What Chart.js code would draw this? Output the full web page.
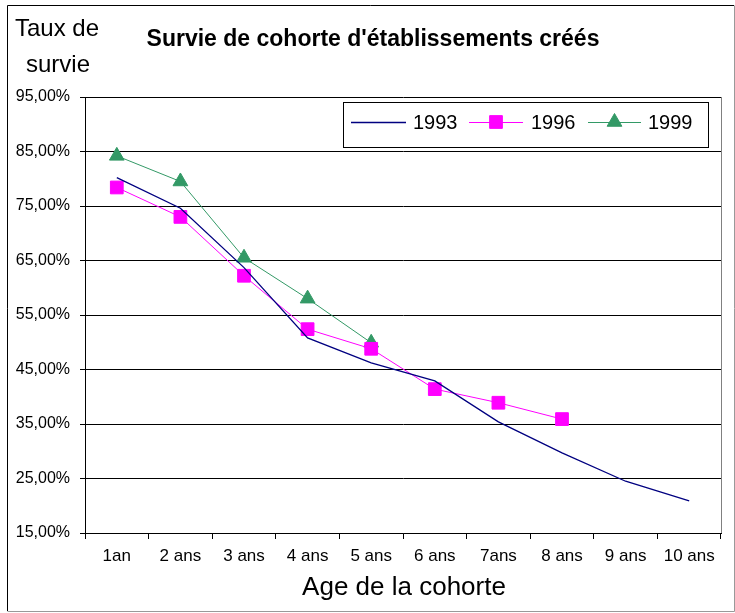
<!DOCTYPE html>
<html lang="fr">
<head>
<meta charset="utf-8">
<title>Survie de cohorte d'établissements créés</title>
<script src="https://cdn.jsdelivr.net/npm/chart.js@4.4.1/dist/chart.umd.min.js"></script>
<style>
  html, body { margin: 0; padding: 0; background: #fff; }
  canvas { display: block; }
</style>
</head>
<body>
<canvas id="survie" width="735" height="613"></canvas>
<script>
// --- données (taux de survie en %) ---
const ages = ['1an', '2 ans', '3 ans', '4 ans', '5 ans', '6 ans', '7ans', '8 ans', '9 ans', '10 ans'];
const cohorte1993 = [80.2, 74.6, 63.7, 50.8, 46.2, 42.9, 35.4, 29.7, 24.5, 20.9];
const cohorte1996 = [78.4, 73.0, 62.2, 52.4, 48.8, 41.4, 38.9, 35.9];
const cohorte1999 = [84.2, 79.5, 65.5, 58.0, 49.9];
const yMin = 15, yMax = 95, yStep = 10;

const FONT = "'Liberation Sans', Arial, sans-serif";
const pct = (v) => v.toFixed(2).replace('.', ',') + '%';

// Textes libres, cadre et légende (dans le graphique, comme dans Excel)
const decor = {
  id: 'decor',
  afterDraw(chart) {
    const { ctx, chartArea: a } = chart;
    ctx.save();

    // bord droit de la zone de traçage
    ctx.strokeStyle = '#808080';
    ctx.lineWidth = 1;
    ctx.beginPath();
    ctx.moveTo(Math.round(a.right) + 0.5, a.top);
    ctx.lineTo(Math.round(a.right) + 0.5, a.bottom);
    ctx.stroke();

    // cadre du graphique
    ctx.strokeStyle = '#000';
    ctx.beginPath();
    ctx.moveTo(7.5, 611); ctx.lineTo(7.5, 5.5); ctx.lineTo(734, 5.5);
    ctx.stroke();
    ctx.strokeStyle = '#999';
    ctx.beginPath();
    ctx.moveTo(734.5, 5.5); ctx.lineTo(734.5, 611.5); ctx.lineTo(7.5, 611.5);
    ctx.stroke();

    ctx.fillStyle = '#000';
    ctx.textBaseline = 'alphabetic';
    ctx.textAlign = 'center';
    ctx.font = `24px ${FONT}`;
    ctx.fillText('Taux de', 57, 36);
    ctx.fillText('survie', 58, 72);
    ctx.font = `bold 23px ${FONT}`;
    ctx.fillText("Survie de cohorte d'établissements créés", 373, 46);
    ctx.font = `26px ${FONT}`;
    ctx.fillText('Age de la cohorte', 404, 595);

    // légende
    ctx.strokeStyle = '#000';
    ctx.lineWidth = 1;
    ctx.strokeRect(343.5, 102.5, 365, 45);
    const items = [
      { x1: 351, x2: 406, tx: 413 },
      { x1: 469, x2: 523, tx: 531 },
      { x1: 588, x2: 641, tx: 648 },
    ];
    const ly = 122;
    chart.data.datasets.forEach((ds, i) => {
      const it = items[i];
      ctx.strokeStyle = ds.borderColor;
      ctx.lineWidth = ds.borderWidth;
      ctx.beginPath();
      ctx.moveTo(it.x1, ly + 0.5); ctx.lineTo(it.x2, ly + 0.5);
      ctx.stroke();
      if (ds.pointRadius > 0) {
        ctx.fillStyle = ds.pointBackgroundColor;
        ctx.strokeStyle = ds.pointBorderColor;
        ctx.lineWidth = 1;
        Chart.helpers.drawPoint(ctx, {
          pointStyle: ds.pointStyle, rotation: 0, borderWidth: 1, radius: ds.pointRadius,
        }, (it.x1 + it.x2) / 2, ly);
      }
      ctx.fillStyle = '#000';
      ctx.font = `20px ${FONT}`;
      ctx.textAlign = 'left';
      ctx.textBaseline = 'middle';
      ctx.fillText(ds.label, it.tx, ly + 1);
    });
    ctx.restore();
  },
};

new Chart(document.getElementById('survie'), {
  type: 'line',
  data: {
    labels: ages,
    datasets: [
      { label: '1993', data: cohorte1993, borderColor: '#000080', borderWidth: 1.3,
        pointRadius: 0, pointStyle: 'circle', tension: 0 },
      { label: '1996', data: cohorte1996, borderColor: '#ff00ff', borderWidth: 1,
        pointRadius: 9, pointHoverRadius: 9, pointStyle: 'rect',
        pointBackgroundColor: '#ff00ff', pointBorderColor: '#ff00ff', tension: 0 },
      { label: '1999', data: cohorte1999, borderColor: '#339966', borderWidth: 1,
        pointRadius: 8.5, pointHoverRadius: 8.5, pointStyle: 'triangle',
        pointBackgroundColor: '#339966', pointBorderColor: '#339966', tension: 0 },
    ],
  },
  options: {
    responsive: false,
    animation: false,
    events: [],
    layout: { padding: { top: 97, left: 8, right: 14, bottom: 0 } },
    plugins: {
      legend: { display: false },
      title: { display: false },
      tooltip: { enabled: false },
    },
    scales: {
      x: {
        type: 'category',
        offset: true,
        afterFit: (s) => { s.height = 80; },
        grid: { offset: true, drawOnChartArea: false, drawTicks: true, tickLength: 6, color: '#000' },
        border: { display: true, color: '#000', width: 1 },
        ticks: { color: '#000', padding: 7, maxRotation: 0, autoSkip: false,
          font: { family: FONT, size: 17 } },
      },
      y: {
        min: yMin, max: yMax,
        afterFit: (s) => { s.width = 77; },
        grid: { color: '#000', lineWidth: 1, drawTicks: true, tickLength: 5 },
        border: { display: true, color: '#000', width: 1 },
        ticks: { stepSize: yStep, color: '#000', padding: 10, callback: (v) => pct(v),
          font: { family: FONT, size: 16 } },
      },
    },
  },
  plugins: [decor],
});
</script>
</body>
</html>
